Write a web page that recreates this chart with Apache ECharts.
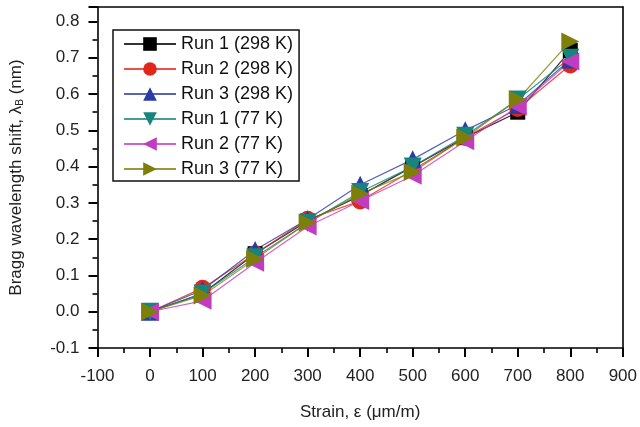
<!DOCTYPE html>
<html>
<head>
<meta charset="utf-8">
<script src="https://cdn.jsdelivr.net/npm/echarts@6/dist/echarts.min.js"></script>
<style>
  html, body { margin: 0; padding: 0; background: #fff; }
  #chart { width: 640px; height: 427px; }
</style>
</head>
<body>
<div id="chart"></div>
<script>
// strain values (µm/m)
const strain = [0, 100, 200, 300, 400, 500, 600, 700, 800];

// Bragg wavelength shift (nm)
const run1_298 = [0.0, 0.05, 0.16, 0.25, 0.32, 0.40, 0.48, 0.55, 0.72];
const run2_298 = [0.0, 0.065, 0.16, 0.255, 0.305, 0.39, 0.48, 0.56, 0.68];
const run3_298 = [0.0, 0.06, 0.17, 0.255, 0.35, 0.42, 0.50, 0.57, 0.695];
const run1_77 = [0.0, 0.05, 0.15, 0.245, 0.33, 0.40, 0.485, 0.585, 0.70];
const run2_77 = [0.0, 0.03, 0.135, 0.235, 0.305, 0.375, 0.47, 0.565, 0.69];
const run3_77 = [0.0, 0.045, 0.145, 0.245, 0.325, 0.385, 0.48, 0.585, 0.745];

const seriesNames = ['Run 1 (298 K)', 'Run 2 (298 K)', 'Run 3 (298 K)', 'Run 1 (77 K)', 'Run 2 (77 K)', 'Run 3 (77 K)'];
const seriesData = [run1_298, run2_298, run3_298, run1_77, run2_77, run3_77];
const colors = ['#000000', '#e3261c', '#2a3ca8', '#16857c', '#c03cc0', '#7e7e0a'];
const symbols = ['rect', 'circle', 'triangle', 'triangle', 'triangle', 'triangle'];
const rotates = [0, 0, 0, 180, 90, -90];
const sizes = [15, 17, 18, 18, 18, 18];

const chart = echarts.init(document.getElementById('chart'));
const font = 'Liberation Sans, Arial, sans-serif';

function tickedAxis(extra) {
    return Object.assign({
        type: 'value',
        axisLine: { show: true, onZero: false, lineStyle: { color: '#000', width: 1.6 } },
        axisTick: { show: true, inside: false, length: 9, lineStyle: { color: '#000', width: 2 } },
        minorTick: { show: true, splitNumber: 2, length: 5, lineStyle: { color: '#000', width: 1.6 } },
        splitLine: { show: false },
        axisLabel: { color: '#222', fontSize: 17, fontFamily: font }
    }, extra);
}

// plain axis used only to close the frame (top / right edges)
function frameAxis(extra) {
    return Object.assign({
        type: 'value',
        axisLine: { show: true, onZero: false, lineStyle: { color: '#000', width: 1.6 } },
        axisTick: { show: false },
        axisLabel: { show: false },
        splitLine: { show: false }
    }, extra);
}

chart.setOption({
    animation: false,
    grid: { left: 97, right: 16, top: 7, bottom: 79 },
    legend: {
        left: 113, top: 30,
        orient: 'vertical',
        itemWidth: 52, itemHeight: 17, itemGap: 7,
        padding: [5, 6, 3, 10],
        borderColor: '#111', borderWidth: 1.5,
        backgroundColor: '#fff',
        textStyle: { color: '#111', fontSize: 18, fontFamily: font }
    },
    xAxis: [
        tickedAxis({
            position: 'bottom',
            min: -100, max: 900, interval: 100,
            name: 'Strain, ε (μm/m)',
            nameLocation: 'middle', nameGap: 56,
            nameTextStyle: { color: '#222', fontSize: 17, fontFamily: font },
            axisLabel: { color: '#222', fontSize: 17, fontFamily: font, margin: 20 }
        }),
        frameAxis({ position: 'top', min: -100, max: 900 })
    ],
    yAxis: [
        tickedAxis({
            position: 'left',
            min: -0.1, max: 0.84, interval: 0.1,
            name: '{a|Bragg wavelength shift, λ}{s|B}{a| (nm)}',
            nameLocation: 'middle', nameGap: 72,
            nameTextStyle: {
                rich: {
                    a: { color: '#222', fontSize: 17, fontFamily: font },
                    s: { color: '#222', fontSize: 10, fontFamily: font, padding: [8, 0, 0, 0] }
                }
            },
            axisLabel: {
                color: '#222', fontSize: 17, fontFamily: font, margin: 18,
                formatter: function (v) {
                    const k = Math.round(v * 10);
                    if (Math.abs(v * 10 - k) > 1e-6) return '';
                    return (k / 10).toFixed(1);
                }
            }
        }),
        frameAxis({ position: 'right', min: -0.1, max: 0.84 })
    ],
    series: seriesNames.map(function (name, i) {
        return {
            name: name,
            type: 'line',
            data: strain.map(function (x, j) { return [x, seriesData[i][j]]; }),
            symbol: symbols[i],
            symbolRotate: rotates[i],
            symbolSize: sizes[i],
            showAllSymbol: true,
            color: colors[i],
            lineStyle: { width: 1.2, color: colors[i], opacity: 0.8 },
            itemStyle: { color: colors[i] }
        };
    })
});
</script>
</body>
</html>
